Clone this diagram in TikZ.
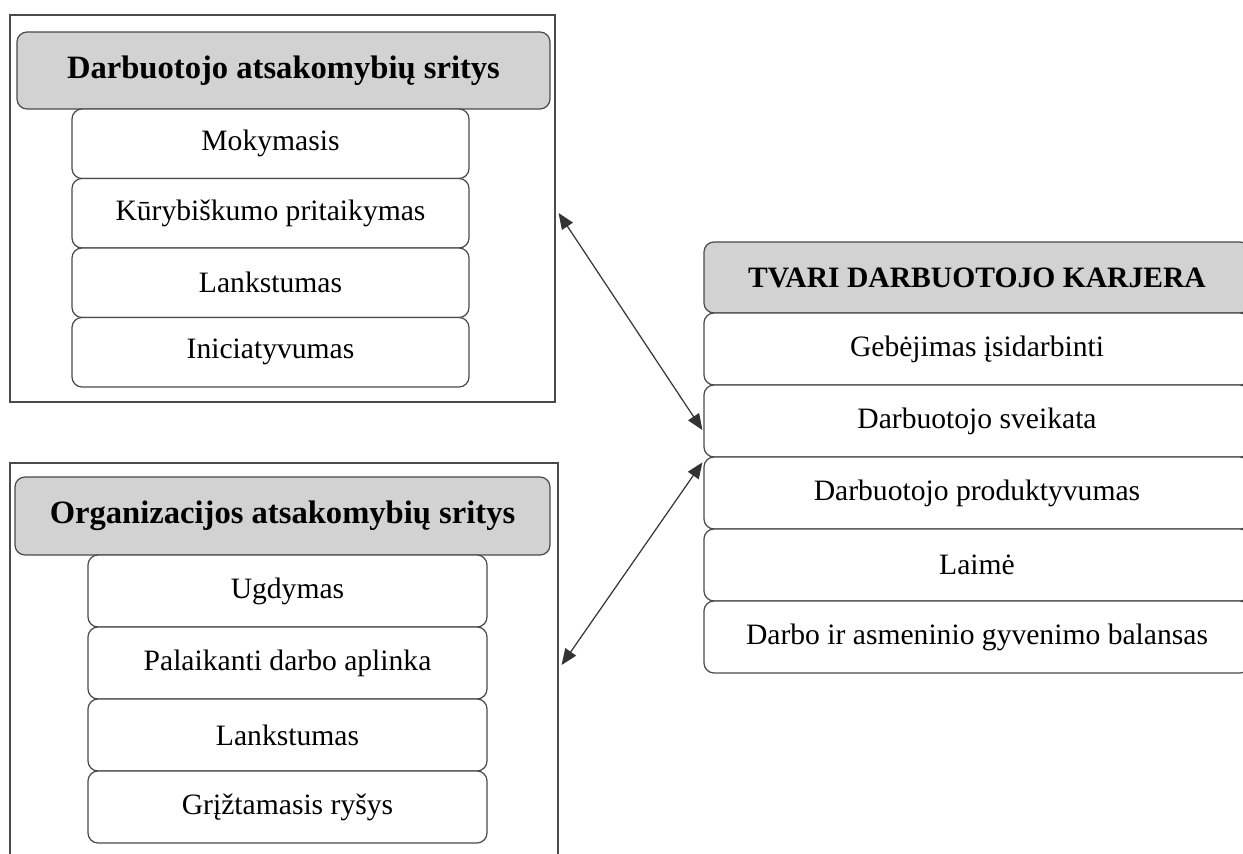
\documentclass[tikz,border=0pt]{standalone}
\usepackage{fontspec}
\setmainfont{Liberation Serif}
\usetikzlibrary{calc,arrows.meta}
\definecolor{lineC}{HTML}{4A4A4A}
\definecolor{headC}{HTML}{D2D2D2}
\tikzset{
  outerbox/.style={draw=lineC, line width=0.6pt, fill=white, inner sep=0pt},
  headbox/.style={draw=lineC, line width=0.6pt, fill=headC, rounded corners=5pt, font=\fontsize{16.3}{19}\selectfont\bfseries, inner sep=0pt},
  itembox/.style={draw=lineC, line width=0.6pt, fill=white, rounded corners=5pt, font=\fontsize{14.8}{18}\selectfont, inner sep=0pt},
  arr/.style={draw=black!80, line width=0.6pt, {Triangle[length=8pt,width=6.5pt]}-{Triangle[length=8pt,width=6.5pt]}}
}
\begin{document}
\begin{tikzpicture}[x=0.5pt,y=-0.5pt]
\useasboundingbox (0,0) rectangle (1243,854);
\fill[white] (0,0) rectangle (1243,854);
\begin{scope}
\clip (0,0) rectangle (1243,854);
% top-left group
\node[outerbox, minimum width=272.5pt, minimum height=193.5pt] (outA) at (282.5,208.5) {};
\node[headbox, minimum width=266.5pt, minimum height=38.5pt] (headA) at (283.5,70.5) {Darbuotojo atsakomybių sritys};
\node[itembox, minimum width=198.5pt, minimum height=34.75pt] (a1) at (270.5,143.75) {Mokymasis};
\node[itembox, minimum width=198.5pt, minimum height=34.75pt] (a2) at (270.5,213.25) {Kūrybiškumo pritaikymas};
\node[itembox, minimum width=198.5pt, minimum height=34.75pt] (a3) at (270.5,282.75) {Lankstumas};
\node[itembox, minimum width=198.5pt, minimum height=34.75pt] (a4) at (270.5,352.25) {Iniciatyvumas};
% bottom-left group
\node[outerbox, minimum width=274pt, minimum height=218.5pt] (outB) at (284,681.5) {};
\node[headbox, minimum width=267.5pt, minimum height=39pt] (headB) at (282.5,516) {Organizacijos atsakomybių sritys};
\node[itembox, minimum width=199.5pt, minimum height=36pt] (b1) at (287.5,591) {Ugdymas};
\node[itembox, minimum width=199.5pt, minimum height=36pt] (b2) at (287.5,663) {Palaikanti darbo aplinka};
\node[itembox, minimum width=199.5pt, minimum height=36pt] (b3) at (287.5,735) {Lankstumas};
\node[itembox, minimum width=199.5pt, minimum height=36pt] (b4) at (287.5,807) {Grįžtamasis ryšys};
% right group
\node[headbox, font=\fontsize{14.8}{18}\selectfont\bfseries, minimum width=273pt, minimum height=35.5pt] (headR) at (977,277.5) {TVARI DARBUOTOJO KARJERA};
\node[itembox, minimum width=273pt, minimum height=36pt] (r1) at (977,349) {Gebėjimas įsidarbinti};
\node[itembox, minimum width=273pt, minimum height=36pt] (r2) at (977,421) {Darbuotojo sveikata};
\node[itembox, minimum width=273pt, minimum height=36pt] (r3) at (977,493) {Darbuotojo produktyvumas};
\node[itembox, minimum width=273pt, minimum height=36pt] (r4) at (977,565) {Laimė};
\node[itembox, minimum width=273pt, minimum height=36pt] (r5) at (977,637) {Darbo ir asmeninio gyvenimo balansas};
\end{scope}
% connectors
\draw[arr] ($(outA.east)+(3,4.5)$) -- ($(r2.west)+(-1,9)$);
\draw[arr] ($(r3.north west)+(-1,6)$) -- ($(outB.east)+(3,-16.5)$);
\end{tikzpicture}
\end{document}
